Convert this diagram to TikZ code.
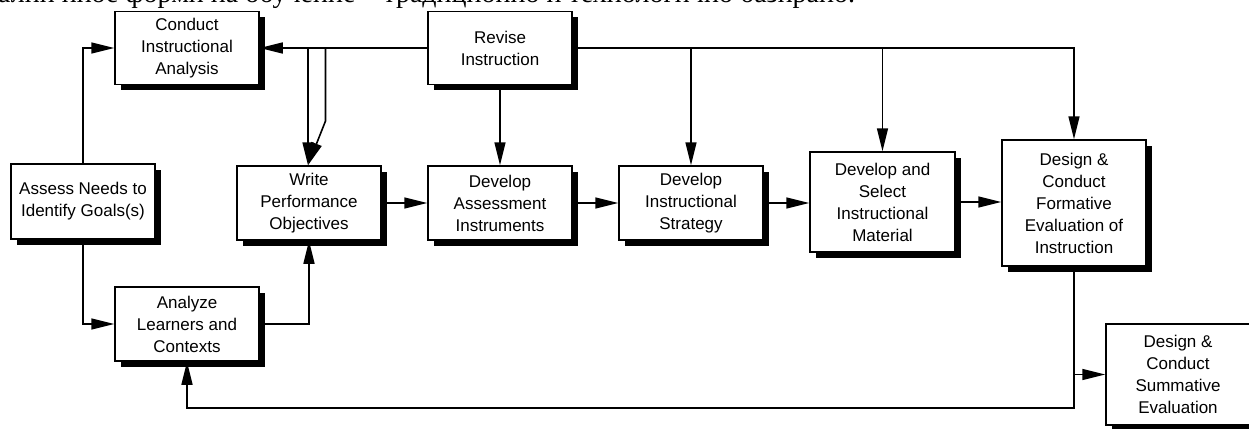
\documentclass[tikz,border=0pt]{standalone}
\usepackage{fontspec}
\newfontfamily\diagfont{Liberation Sans}
\newfontfamily\topfont{Liberation Serif}
\usetikzlibrary{arrows.meta,shadows}
\begin{document}
\begin{tikzpicture}[x=1pt,y=-1pt,
  box/.style={draw, line width=1.5pt, fill=white, inner sep=0pt, minimum width=144pt,
    align=center, font=\diagfont\fontsize{17}{22}\selectfont,
    drop shadow={shadow xshift=5.5pt, shadow yshift=-5.5pt, fill=black, opacity=1}},
  conn/.style={line width=1.6pt},
  arr/.style={conn, -{Triangle[length=23pt,width=11pt]}}]
\useasboundingbox (0,0) rectangle (1249,428);
\fill[white] (0,0) rectangle (1249,428);
\begin{scope}
\clip (0,0) rectangle (1249,428);
\node[anchor=base west, inner sep=0pt, font=\topfont\fontsize{28}{30}\selectfont] (toptext) at (-2,3) {ални иное форми на обучение – традиционно и технологично базирано.};
\end{scope}
% boxes
\node[box, minimum height=73pt] (conduct) at (187,48) {Conduct\\Instructional\\Analysis};
\node[box, minimum height=73pt] (revise) at (500,48) {Revise\\Instruction};
\node[box, minimum height=75pt] (assess) at (83,201.5) {Assess Needs to\\Identify Goals(s)};
\node[box, minimum height=74pt] (write) at (309,203) {Write\\Performance\\Objectives};
\node[box, minimum height=74pt] (assessment) at (500,203) {Develop\\Assessment\\Instruments};
\node[box, minimum height=74pt] (strategy) at (691,203) {Develop\\Instructional\\Strategy};
\node[box, minimum height=100pt, minimum width=145pt] (material) at (882.5,202) {Develop and\\Select\\Instructional\\Material};
\node[box, minimum height=126pt] (formative) at (1074,203) {Design \&\\Conduct\\Formative\\Evaluation of\\Instruction};
\node[box, minimum height=74pt] (analyze) at (187,324) {Analyze\\Learners and\\Contexts};
\node[box, minimum height=101pt] (summative) at (1178,374.5) {Design \&\\Conduct\\Summative\\Evaluation};
% helper coordinates
\coordinate (ja) at (308,48);
\coordinate (jb) at (325.5,48);
\coordinate (jc) at (325.5,121);
\coordinate (bl) at (0,408);
% connectors
\draw[arr] (revise.west) -- (conduct.east);
\draw[arr] (ja) -- (ja |- write.north);
\draw[arr] (jb) -- (jc) -- (ja |- write.north);
\draw[arr] (revise.south) -- (assessment.north);
\draw[arr] (revise.east) -| (formative.north);
\draw[arr] (revise.east -| strategy.north) -- (strategy.north);
\draw[arr] (revise.east -| material.north) -- (material.north);
\draw[arr] (assess.north) |- (conduct.west);
\draw[arr] (assess.south) |- (analyze.west);
\draw[arr] (analyze.east) -| (write.south);
\draw[arr] (write.east) -- (assessment.west);
\draw[arr] (assessment.east) -- (strategy.west);
\draw[arr] (strategy.east) -- (strategy.east -| material.west);
\draw[arr] (material.east) -- (material.east -| formative.west);
\draw[arr] (formative.south) -- (formative.south |- bl) -| (analyze.south);
\draw[arr] (formative.south |- summative.west) -- (summative.west);
\end{tikzpicture}
\end{document}
